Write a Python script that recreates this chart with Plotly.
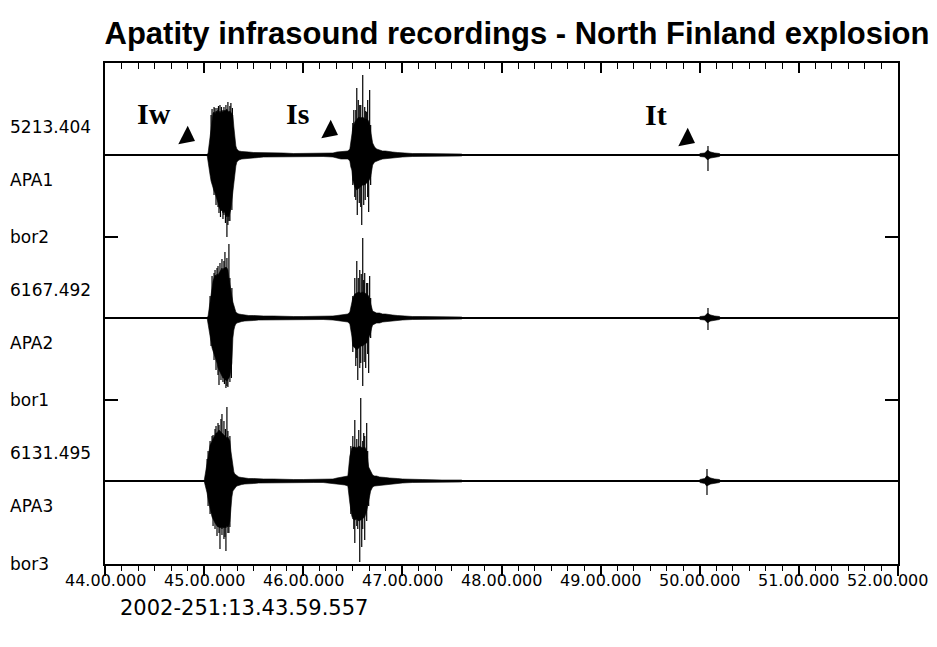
import plotly.graph_objects as go

# ---------------- data ----------------
title_text = "Apatity infrasound recordings - North Finland explosion"
stations = ["APA1", "APA2", "APA3"]
scale_labels = ["5213.404", "6167.492", "6131.495"]
bar_labels = ["bor2", "bor1", "bor3"]
date_label = "2002-251:13.43.59.557"
phase_labels = ["Iw", "Is", "It"]
tick_minutes = [44, 45, 46, 47, 48, 49, 50, 51, 52]
tick_text = ["44.00.000", "45.00.000", "46.00.000", "47.00.000", "48.00.000",
             "49.00.000", "50.00.000", "51.00.000", "52.00.000"]

# envelope time grid (minutes), shared by all stations
env_t = [45.00, 45.02, 45.03, 45.04, 45.05, 45.06, 45.07, 45.08, 45.09, 45.10,
         45.11, 45.12, 45.13, 45.14, 45.15, 45.16, 45.17, 45.18, 45.19, 45.20,
         45.21, 45.22, 45.23, 45.24, 45.25, 45.26, 45.27, 45.28, 45.29, 45.30,
         45.31, 45.32, 45.33, 45.35, 45.38, 45.41, 45.45, 45.50, 45.55, 45.60,
         45.70, 45.80, 45.90, 46.00, 46.10, 46.20, 46.30, 46.34, 46.38, 46.42,
         46.45, 46.47, 46.48, 46.49, 46.50, 46.52, 46.54, 46.56, 46.58, 46.60,
         46.62, 46.64, 46.66, 46.68, 46.69, 46.70, 46.72, 46.74, 46.77, 46.80,
         46.83, 46.87, 46.90, 46.95, 47.00, 47.10, 47.20, 47.40, 47.60]

apa1_up = [0, 0, 0, 2, 10, 20, 28, 35, 42, 43,
           41, 44, 43, 45, 42, 44, 42, 45, 43, 45,
           44, 45, 46, 44, 43, 44, 43, 42, 40, 28,
           15, 9, 6, 4, 3.5, 3, 3, 2.5, 2.5, 2,
           2, 2, 1.5, 1.5, 1.5, 1.5, 2, 3, 3.5, 4,
           4, 6, 12, 18, 27, 33, 36, 38, 37, 38,
           36, 36, 34, 25, 18, 12, 8, 6, 5, 4,
           4, 3, 3, 2.5, 2, 1.5, 1.5, 1, 1]
apa1_lo = [0, 0, 0, -3, -12, -20, -26, -30, -33, -36,
           -38, -42, -44, -48, -52, -54, -56, -55, -58, -56,
           -58, -60, -62, -60, -62, -58, -54, -48, -42, -33,
           -20, -11, -7, -5, -4, -3.5, -3, -3, -2.5, -2,
           -2, -2, -1.5, -1.5, -1.5, -1.5, -2, -3, -4, -4,
           -4, -6, -12, -15, -25, -32, -35, -33, -32, -30,
           -30, -28, -26, -22, -15, -10, -7, -6, -5, -4,
           -4, -3, -3, -2.5, -2, -1.5, -1.5, -1, -1]

apa2_up = [0, 0, 0, 2, 10, 17, 25, 32, 37, 40,
           43, 42, 44, 43, 45, 46, 48, 50, 48, 50,
           50, 51, 50, 48, 40, 32, 29, 22, 16, 12,
           8, 6, 5, 4, 3.5, 3, 2.5, 2.5, 2, 2,
           2, 1.5, 1.5, 1.5, 1.5, 1.5, 2, 2.5, 3, 3.5,
           4, 6, 10, 15, 20, 24, 25, 26, 25, 26,
           25, 24, 22, 15, 10, 7, 6, 5, 5, 4,
           4, 3, 3, 2.5, 2, 1.5, 1.5, 1, 1]
apa2_lo = [0, 0, 0, -2, -10, -17, -24, -30, -33, -36,
           -40, -42, -45, -50, -52, -54, -56, -58, -60, -60,
           -62, -62, -63, -62, -60, -58, -55, -45, -20, -12,
           -8, -6, -5, -4, -3.5, -3, -2.5, -2.5, -2, -2,
           -2, -1.5, -1.5, -1.5, -1.5, -1.5, -2, -2.5, -3, -3.5,
           -4, -6, -10, -18, -28, -30, -32, -30, -28, -28,
           -26, -25, -20, -15, -10, -7, -6, -5, -5, -4,
           -4, -3, -3, -2.5, -2, -1.5, -1.5, -1, -1]

apa3_up = [0, 12, 18, 26, 32, 36, 38, 40, 41, 44,
           46, 48, 48, 50, 51, 50, 49, 48, 46, 45,
           44, 44, 43, 44, 42, 40, 30, 21, 12, 9,
           7, 6, 5, 4, 3.5, 3, 2.5, 2.5, 2, 2,
           2, 1.5, 1.5, 1.5, 1.5, 1.5, 2, 3, 3.5, 4,
           5, 25, 31, 33, 34, 34, 33, 35, 34, 33,
           34, 30, 14, 9, 7, 6, 5, 5, 4, 4,
           3.5, 3, 3, 2.5, 2, 1.5, 1.5, 1, 1]
apa3_lo = [0, -8, -12, -18, -24, -28, -32, -36, -38, -40,
           -42, -44, -45, -46, -46, -47, -46, -48, -46, -47,
           -46, -47, -45, -46, -44, -40, -30, -16, -10, -8,
           -7, -6, -5, -4, -3.5, -3, -2.5, -2.5, -2, -2,
           -2, -1.5, -1.5, -1.5, -1.5, -1.5, -2, -3, -3.5, -4,
           -5, -22, -29, -35, -38, -39, -38, -40, -39, -38,
           -36, -30, -20, -10, -8, -6, -5, -5, -4, -4,
           -3.5, -3, -3, -2.5, -2, -1.5, -1.5, -1, -1]

# isolated spikes (minutes, amplitude)
apa1_spike_t = [45.07, 45.10, 45.13, 45.16, 45.20, 45.24, 45.27, 45.12, 45.15, 45.18, 45.20,
                45.23, 45.24, 45.26, 46.51, 46.54, 46.57, 46.60, 46.62, 46.67, 46.64,
                46.52, 46.545, 46.59, 46.61, 46.66, 50.083, 50.083,
                45.08, 45.11, 45.145, 45.175, 45.22, 45.26, 45.285,
                45.10, 45.14, 45.165, 45.19, 45.215, 45.25, 45.28,
                46.50, 46.53, 46.555, 46.58, 46.63, 46.65, 46.68,
                46.50, 46.53, 46.565, 46.58, 46.625, 46.65, 46.68]
apa1_spike_a = [40, 48, 47, 50, 48, 53, 52, -50, -58, -55, -60,
                -82, -70, -66, 45, 67, 50, 80, 48, 65, 43,
                -42, -60, -70, -50, -57, 9, -16,
                46, 47, 49, 48, 50, 49, 47,
                -40, -52, -62, -64, -68, -66, -55,
                32, 45, 55, 50, 44, 55, 30,
                -30, -45, -48, -52, -45, -42, -30]
apa2_spike_t = [45.08, 45.11, 45.14, 45.18, 45.21, 45.25, 45.12, 45.15, 45.19, 45.22, 45.24,
                46.52, 46.54, 46.57, 46.60, 46.62, 46.67, 46.64, 46.53, 46.55, 46.58,
                46.60, 46.63, 46.66, 50.083, 50.083,
                45.06, 45.10, 45.13, 45.16, 45.20, 45.23, 45.26, 45.28,
                45.07, 45.10, 45.14, 45.17, 45.205, 45.23, 45.26, 45.275,
                46.50, 46.555, 46.585, 46.61, 46.65, 46.68,
                46.50, 46.54, 46.57, 46.615, 46.65, 46.68]
apa2_spike_a = [42, 48, 52, 59, 66, 74, -52, -67, -64, -70, -69,
                40, 57, 48, 80, 45, 42, 35, -48, -62, -45,
                -68, -50, -55, 10, -12,
                22, 45, 50, 55, 57, 60, 40, 30,
                -28, -42, -57, -62, -66, -68, -64, -60,
                22, 40, 44, 38, 35, 20,
                -34, -40, -50, -44, -36, -20]
apa3_spike_t = [45.04, 45.09, 45.12, 45.18, 45.23, 45.14, 45.20, 45.09, 45.13, 45.16,
                45.22, 45.20, 45.25, 46.50, 46.52, 46.56, 46.58, 46.61, 46.64, 46.51,
                46.52, 46.57, 46.62, 46.55, 46.59, 50.073, 50.073,
                45.03, 45.06, 45.08, 45.11, 45.15, 45.17, 45.215, 45.24, 45.26,
                45.04, 45.06, 45.11, 45.15, 45.18, 45.21, 45.24, 45.26,
                46.48, 46.54, 46.60, 46.62, 46.65,
                46.48, 46.54, 46.60, 46.64, 46.66]
apa3_spike_a = [30, 46, 55, 67, 74, 58, 60, -45, -55, -68,
                -70, -58, -52, 45, 61, 51, 83, 48, 58, -48,
                -62, -81, -59, -48, -66, 12, -14,
                22, 40, 45, 52, 56, 62, 52, 50, 45,
                -25, -33, -48, -52, -54, -56, -52, -46,
                35, 42, 40, 45, 30,
                -33, -45, -48, -40, -25]

# "It" small arrival envelopes
it_t = [50.00, 50.05, 50.07, 50.08, 50.09, 50.11, 50.15, 50.20]
it_up = [[1.5, 2, 4, 5, 4, 3, 2, 1.5],
         [1.5, 2, 4, 5, 4, 3, 2, 1.5],
         [1.5, 2.5, 5, 5, 4, 3, 2, 1.5]]
it_lo = [[-1.5, -2, -4, -5, -4, -3, -2, -1.5],
         [-1.5, -2, -4, -5, -4, -3, -2, -1.5],
         [-1.5, -2.5, -5, -5, -4, -3, -2, -1.5]]

env_up = [apa1_up, apa2_up, apa3_up]
env_lo = [apa1_lo, apa2_lo, apa3_lo]
spike_t = [apa1_spike_t, apa2_spike_t, apa3_spike_t]
spike_a = [apa1_spike_a, apa2_spike_a, apa3_spike_a]
for arr in env_up + env_lo:
    assert len(arr) == len(env_t), len(arr)
for a, b in zip(spike_t, spike_a):
    assert len(a) == len(b), (len(a), len(b))

# ---------------- layout constants (page pixels) ----------------
OFF = 8                       # default body margin of the html page
W, H = 929, 639
ML, MR, MT, MB = 97, 39, 55, 83
PW = W - ML - MR
PH = H - MT - MB              # plot height in px; y axis is in px units
PL, PT, PB = OFF + ML, OFF + MT, OFF + H - MB   # page coords of plot edges
offsets = [409, 246, 83]      # trace baselines
bar_y = [327, 164, 0]
X0, X1 = 44, 52
pxm = PW / (X1 - X0)


def xm(px):
    return X0 + (px - PL) / pxm


def yd(py):
    return PB - py


fig = go.Figure()
K = "black"

for i in range(3):
    off = offsets[i]
    fig.add_trace(go.Scatter(x=[X0, X1], y=[off, off], mode="lines",
                             line=dict(color=K, width=1.8), hoverinfo="skip"))
    px_ = env_t + env_t[::-1]
    py_ = [off + v for v in env_up[i]] + [off + v for v in env_lo[i]][::-1]
    fig.add_trace(go.Scatter(x=px_, y=py_, mode="lines", fill="toself",
                             fillcolor=K, line=dict(color=K, width=0.6), hoverinfo="skip"))
    px_ = it_t + it_t[::-1]
    py_ = [off + v for v in it_up[i]] + [off + v for v in it_lo[i]][::-1]
    fig.add_trace(go.Scatter(x=px_, y=py_, mode="lines", fill="toself",
                             fillcolor=K, line=dict(color=K, width=0.6), hoverinfo="skip"))
    sx, sy = [], []
    for t, a in zip(spike_t[i], spike_a[i]):
        sx += [t, t, None]
        sy += [off, off + a, None]
    fig.add_trace(go.Scatter(x=sx, y=sy, mode="lines",
                             line=dict(color=K, width=1.2), hoverinfo="skip"))

# phase arrow-heads (triangles)
tri_px = [(187, 137), (330, 131), (687, 139)]
fig.add_trace(go.Scatter(x=[xm(p[0]) for p in tri_px], y=[yd(p[1]) for p in tri_px],
                         mode="markers",
                         marker=dict(symbol="triangle-right", size=18, angle=27, color=K,
                                     line=dict(width=0)),
                         hoverinfo="skip"))
# dummy traces so that the extra tick axes are drawn
for ax in ("x2", "x3", "x4"):
    fig.add_trace(go.Scatter(x=[X0, X1], y=[0, 0], xaxis=ax, mode="lines",
                             line=dict(width=0), hoverinfo="skip", showlegend=False))

annotations = []
lab_px = [(154, 113), (297, 113), (656, 114)]
for txt, (px, py) in zip(phase_labels, lab_px):
    annotations.append(dict(x=xm(px), y=yd(py), xref="x", yref="y", text=txt,
                            showarrow=False, xanchor="center", yanchor="middle",
                            font=dict(family="Liberation Serif, Times New Roman, serif",
                                      size=30, color=K, weight="bold")))
left_font = dict(family="DejaVu Sans", size=17, color=K)
for i in range(3):
    off = offsets[i]
    for txt, yy in ((scale_labels[i], off + 28), (stations[i], off - 25), (bar_labels[i], bar_y[i])):
        annotations.append(dict(x=(8 - PL) / PW, y=yy, xref="paper", yref="y", text=txt,
                                showarrow=False, xanchor="left", yanchor="middle",
                                font=left_font))
# x tick labels
for j, (tv, tt) in enumerate(zip(tick_minutes, tick_text)):
    annotations.append(dict(x=tv, y=(PB - 580) / PH, xref="x", yref="paper", text=tt,
                            showarrow=False, xanchor="center", yanchor="middle",
                            xshift=-11 if j == len(tick_minutes) - 1 else 0,
                            font=dict(family="DejaVu Sans", size=16, color=K)))
annotations.append(dict(x=(118 - PL) / PW, y=(PB - 608) / PH, xref="paper", yref="paper",
                        text=date_label, showarrow=False, xanchor="left", yanchor="middle",
                        font=dict(family="DejaVu Sans", size=21, color=K)))

common = dict(range=[X0, X1], showgrid=False, zeroline=False, fixedrange=True,
              showticklabels=False, tickcolor=K, tickmode="linear", tick0=X0)
fig.update_layout(
    width=W, height=H, autosize=False,
    margin=dict(l=ML, r=MR, t=MT, b=MB),
    paper_bgcolor="white", plot_bgcolor="white",
    showlegend=False,
    title=dict(text=title_text, x=(517 - OFF) / W, xref="container", xanchor="center",
               y=1 - (33 - OFF) / H, yref="container", yanchor="middle",
               font=dict(family="Liberation Sans Narrow, Arial Narrow, Liberation Sans, sans-serif",
                         size=31, color=K, weight="bold")),
    xaxis=dict(**common, dtick=1, showline=True, linecolor=K, linewidth=1.5,
               ticks="outside", ticklen=10, tickwidth=1.5),
    xaxis3=dict(**common, dtick=1 / 6, overlaying="x", side="bottom", anchor="y",
                showline=False, ticks="outside", ticklen=6, tickwidth=1),
    xaxis2=dict(**common, dtick=1, overlaying="x", side="top", anchor="y",
                showline=True, linecolor=K, linewidth=1.5,
                ticks="inside", ticklen=10, tickwidth=1.5),
    xaxis4=dict(**common, dtick=1 / 6, overlaying="x", side="top", anchor="y",
                showline=False, ticks="inside", ticklen=6, tickwidth=1),
    yaxis=dict(range=[0, PH], showgrid=False, zeroline=False,
               showline=True, linecolor=K, linewidth=1.5, mirror="ticks",
               tickmode="array", tickvals=bar_y, ticks="inside", ticklen=13,
               tickwidth=1.5, tickcolor=K, showticklabels=False, fixedrange=True),
    annotations=annotations,
)

fig.write_html("out.html")
